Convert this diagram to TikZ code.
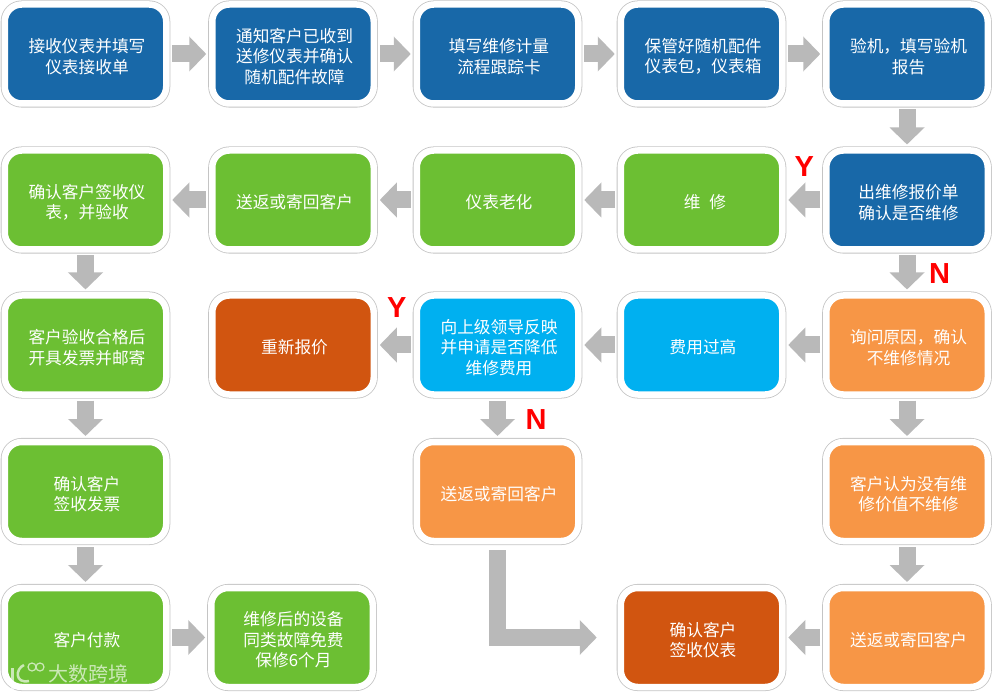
\documentclass[tikz,border=0pt]{standalone}
\usepackage{fontspec}
\setmainfont{Noto Sans CJK SC}
\newfontfamily\flagfont{Liberation Sans}
\usepackage{xcolor}
\usetikzlibrary{arrows.meta,positioning,calc}
\definecolor{stepblue}{HTML}{1868A8}
\definecolor{stepgreen}{HTML}{6CBF33}
\definecolor{steporange}{HTML}{F79646}
\definecolor{stepsky}{HTML}{00B0F0}
\definecolor{steprust}{HTML}{D15510}
\definecolor{arrowgray}{HTML}{B9B9B9}
\definecolor{framegray}{HTML}{C4C4C4}
\tikzset{
	stepbox/.style={preaction={draw=framegray, line width=8.1pt}, draw=white, line width=6.5pt,
		rounded corners=17pt, outer sep=4pt, inner sep=0pt, align=center, text width=161.5pt,
		minimum width=161.5pt, minimum height=99pt, text=white,
		execute at begin node={\rule{0pt}{19.2pt}\advance\leftskip by 3pt},
		font=\fontsize{16.7}{20.5}\selectfont},
	blockarrow/.style={-{Triangle[width=34pt,length=17pt]}, arrowgray, line width=17pt,
		shorten >=2pt, shorten <=2pt},
	flag/.style={font=\fontsize{29}{29}\flagfont\bfseries, text=red, inner sep=0pt}
}
\begin{document}
\begin{tikzpicture}[x=1pt, y=1pt, node distance=39pt and 36pt]

	\useasboundingbox (0,0) rectangle (993,-692);

	%% -- Row 1
	\node[stepbox, fill=stepblue] (a1) at (85.5,-54) {接收仪表并填写\\仪表接收单};
	\node[stepbox, fill=stepblue, right=38pt of a1] (a2) {通知客户已收到\\送修仪表并确认\\随机配件故障};
	\node[stepbox, fill=stepblue, right=35pt of a2] (a3) {填写维修计量\\流程跟踪卡};
	\node[stepbox, fill=stepblue, right=34.5pt of a3] (a4) {保管好随机配件\\仪表包，仪表箱};
	\node[stepbox, fill=stepblue, right=of a4] (a5) {验机，填写验机\\报告};

	%% -- Row 2
	\node[stepbox, fill=stepblue, below=of a5] (b5) {出维修报价单\\确认是否维修};
	\node[stepbox, fill=stepgreen, below=of a4] (b4) {\hspace*{4pt}维\hspace{9pt}修};
	\node[stepbox, fill=stepgreen, below=of a3] (b3) {仪表老化};
	\node[stepbox, fill=stepgreen, below=of a2] (b2) {送返或寄回客户};
	\node[stepbox, fill=stepgreen, below=of a1] (b1) {确认客户签收仪\\表，并验收};

	%% -- Row 3
	\node[stepbox, fill=steporange, below=38pt of b5] (c5) {询问原因，确认\\不维修情况};
	\node[stepbox, fill=stepsky, below=38pt of b4] (c4) {费用过高};
	\node[stepbox, fill=stepsky, below=38pt of b3] (c3) {向上级领导反映\\并申请是否降低\\维修费用};
	\node[stepbox, fill=steprust, below=38pt of b2] (c2) {重新报价};
	\node[stepbox, fill=stepgreen, below=38pt of b1] (c1) {客户验收合格后\\开具发票并邮寄};

	%% -- Row 4
	\node[stepbox, fill=stepgreen, below=39.5pt of c1] (d1) {确认客户\\签收发票};
	\node[stepbox, fill=steporange, below=39.5pt of c3] (d3) {送返或寄回客户};
	\node[stepbox, fill=steporange, below=39.5pt of c5] (d5) {客户认为没有维\\修价值不维修};

	%% -- Row 5
	\node[stepbox, fill=stepgreen, below=of d1] (e1) {客户付款};
	\node[stepbox, fill=stepgreen, right=37pt of e1] (e2) {维修后的设备\\同类故障免费\\保修6个月};
	\node[stepbox, fill=steporange, below=of d5] (e5) {送返或寄回客户};
	\node[stepbox, fill=steprust, left=of e5] (e4) {确认客户\\签收仪表};

	%% -- Block arrows along the rows
	\draw[blockarrow] (a1) -- (a2);
	\draw[blockarrow] (a2) -- (a3);
	\draw[blockarrow] (a3) -- (a4);
	\draw[blockarrow] (a4) -- (a5);
	\draw[blockarrow] (b5) -- (b4);
	\draw[blockarrow] (b4) -- (b3);
	\draw[blockarrow] (b3) -- (b2);
	\draw[blockarrow] (b2) -- (b1);
	\draw[blockarrow] (c5) -- (c4);
	\draw[blockarrow] (c4) -- (c3);
	\draw[blockarrow] (c3) -- (c2);
	\draw[blockarrow] (e1) -- (e2);
	\draw[blockarrow] (e5) -- (e4);

	%% -- Block arrows along the columns
	\draw[blockarrow] (a5) -- (b5);
	\draw[blockarrow] (b5) -- (c5);
	\draw[blockarrow] (c5) -- (d5);
	\draw[blockarrow] (d5) -- (e5);
	\draw[blockarrow] (b1) -- (c1);
	\draw[blockarrow] (c1) -- (d1);
	\draw[blockarrow] (d1) -- (e1);
	\draw[blockarrow] (c3) -- (d3);

	%% -- Return path
	\draw[blockarrow, shorten <=5pt, shorten >=20pt] (d3.south) |- (e4.west);

	%% -- Y / N flags
	\node[flag] (y1) at ([xshift=-18pt, yshift=-20pt] b5.north west) {Y};
	\node[flag] (n1) at ([xshift=32.5pt, yshift=-20.5pt] b5.south) {N};
	\node[flag] (y2) at ([xshift=-16pt, yshift=-16.5pt] c3.north west) {Y};
	\node[flag] (n2) at ([xshift=38.5pt, yshift=-21.5pt] c3.south) {N};

	%% -- Watermark
	\node[text=white, opacity=0.65, font=\fontsize{20}{20}\selectfont, anchor=west, inner sep=0pt]
	(mark) at (48.5,-674) {大数跨境};
	\draw[white, opacity=0.65, line width=3pt] (12,-668) -- (12,-690);
	\draw[white, opacity=0.65, line width=2.5pt] (24,-665) .. controls (15,-669) and (15,-684) .. (29,-681);
	\draw[white, opacity=0.65, line width=1.2pt] (32,-667) circle (4) (40,-667) circle (4);

\end{tikzpicture}
\end{document}
